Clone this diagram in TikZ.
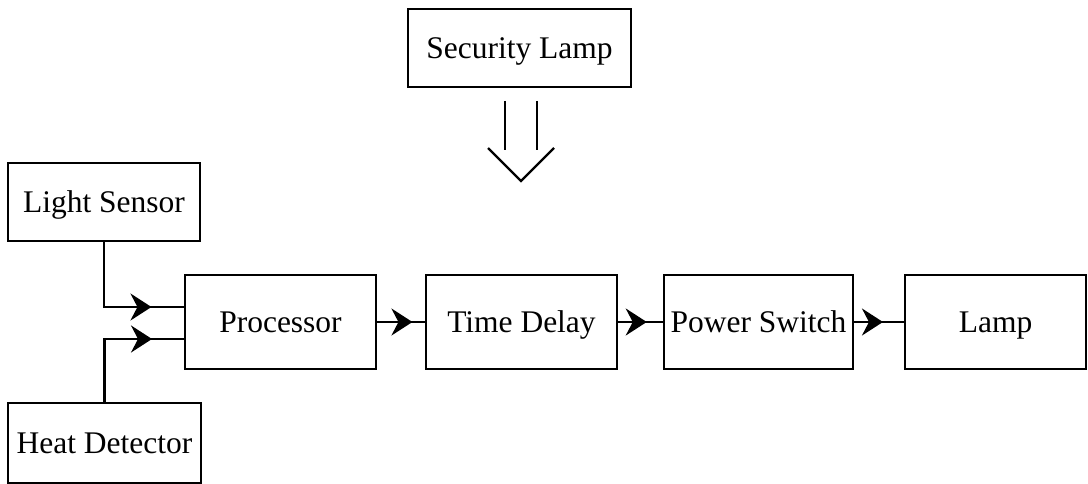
\documentclass[tikz,border=0pt]{standalone}
\usepackage{fontspec}
\setmainfont{Liberation Serif}
\usetikzlibrary{arrows.meta,decorations.markings}
\tikzset{
  blk/.style={draw, line width=2.3pt, inner sep=0pt, text height=24pt, text depth=3pt, font=\fontsize{31.5}{37}\selectfont},
  conn/.style={line width=2.3pt},
  arrowat/.style={postaction={decorate}, decoration={markings, mark=at position #1 with {\arrow{Stealth[length=21pt,width=27pt,inset=7pt]}}}}
}
\begin{document}
\begin{tikzpicture}[x=1pt,y=-1pt]
\useasboundingbox (0,0) rectangle (1088,484);
\node[blk, minimum width=223pt, minimum height=78pt] (sec) at (519.5,48) {Security Lamp};
\node[blk, minimum width=192pt, minimum height=78pt] (light) at (104,202) {Light Sensor};
\node[blk, minimum width=193pt, minimum height=80pt] (heat) at (104.5,443) {Heat Detector};
\node[blk, minimum width=191pt, minimum height=94pt] (proc) at (280.5,322) {Processor};
\node[blk, minimum width=191pt, minimum height=94pt] (td) at (521.5,322) {Time Delay};
\node[blk, minimum width=189pt, minimum height=94pt] (ps) at (758.5,322) {Power Switch};
\node[blk, minimum width=181pt, minimum height=94pt] (lamp) at (995.5,322) {Lamp};
\coordinate (pin1) at (185,307);
\coordinate (pin2) at (185,339);
\draw[conn, arrowat=0.77] (light.south) |- (pin1);
\draw[conn, arrowat=0.77] (heat.north) |- (pin2);
\draw[conn, arrowat=0.74] (proc.east) -- (td.west);
\draw[conn, arrowat=0.64] (td.east) -- (ps.west);
\draw[conn, arrowat=0.58] (ps.east) -- (lamp.west);
% hollow arrow below the Security Lamp
\draw[conn] (505,101) -- (505,150);
\draw[conn] (537,101) -- (537,150);
\draw[conn] (488,148) -- (521,181) -- (554,148);
\end{tikzpicture}
\end{document}
